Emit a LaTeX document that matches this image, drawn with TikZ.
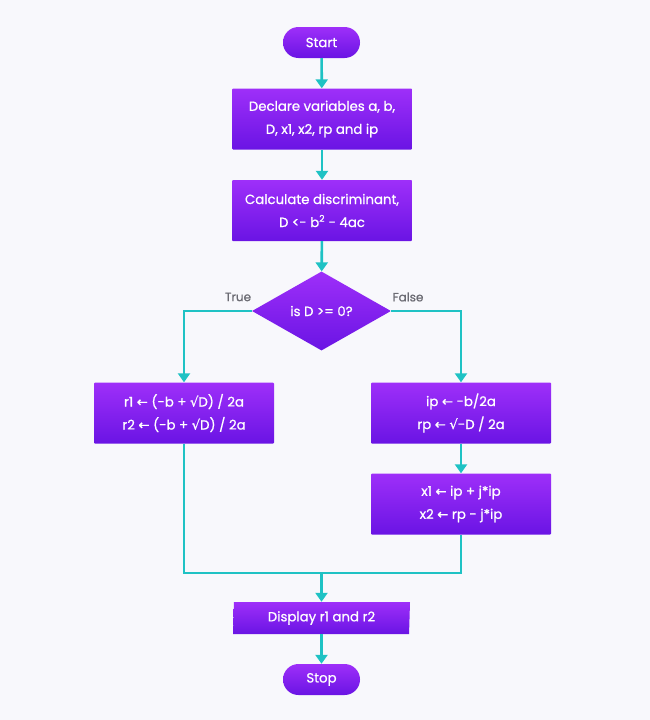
\documentclass[tikz,border=0pt]{standalone}
\usepackage{fontspec}
\setmainfont{Poppins}
\newfontfamily\nodefont[FakeBold=0.8]{Poppins}
\newfontfamily\symf[FakeBold=0.8]{DejaVu Sans}
\usetikzlibrary{shapes.geometric,arrows.meta}
\definecolor{bgc}{HTML}{F8F8FC}
\definecolor{ptop}{HTML}{9E2FF9}
\definecolor{pbot}{HTML}{6A14E4}
\definecolor{teal}{HTML}{1FC2C4}
\definecolor{lbl}{HTML}{6B6B73}
\newcommand{\la}{{\symf ←}}
\newcommand{\sq}{{\symf √}}
\begin{document}
\begin{tikzpicture}[x=1pt,y=-1pt,
  fill box/.style={top color=ptop,bottom color=pbot,draw=none,text=white,
    font=\nodefont\fontsize{13.3}{23}\selectfont,align=center,inner sep=0pt},
  procbox/.style={fill box,rectangle,minimum width=180pt,minimum height=61pt,rounded corners=1pt},
  pill/.style={fill box,rectangle,rounded corners=15.5pt,minimum width=77pt,minimum height=31pt},
  decbox/.style={fill box,diamond,minimum width=139pt,minimum height=79pt,aspect=1.76},
  iobox/.style={fill box,trapezium,trapezium left angle=86,trapezium right angle=94,minimum width=177pt,minimum height=32pt,trapezium stretches body},
  conn/.style={draw=teal,line width=2.6pt},
  arr/.style={conn,-{Triangle[width=12pt,length=9pt]}},
  tlabel/.style={text=lbl,font=\nodefont\fontsize{12}{14}\selectfont}]
\fill[bgc] (0,0) rectangle (650,720);
\useasboundingbox (0,0) rectangle (650,720);
\node[pill] (start) at (321.5,42.5) {Start};
\node[procbox] (decl) at (322,119) {Declare variables a, b,\\D, x1, x2, rp and ip};
\node[procbox] (calc) at (322,210.5) {Calculate discriminant,\\D <- b\textsuperscript{2} - 4ac};
\node[decbox] (dec) at (321.5,311) {is D >= 0?};
\node[procbox] (rl) at (184,413) {r1 \la{} (-b + \sq D) / 2a\\r2 \la{} (-b + \sq D) / 2a};
\node[procbox] (ra) at (461,413) {ip \la{} -b/2a\\rp \la{} \sq -D / 2a};
\node[procbox] (rb) at (461,504) {x1 \la{} ip + j*ip\\x2 \la{} rp - j*ip};
\node[iobox] (disp) at (321.5,618) {Display r1 and r2};
\node[pill] (stop) at (321.5,679.5) {Stop};
\coordinate (join) at (321.5,573);
\node[tlabel] (tl) at (238,297) {True};
\node[tlabel] (fl) at (408,297) {False};
\draw[arr] (start) -- (decl);
\draw[arr] (decl) -- (calc);
\draw[arr] (calc) -- (dec);
\draw[arr] (dec.west) -| (rl.north);
\draw[arr] (dec.east) -| (ra.north);
\draw[arr] (ra) -- (rb);
\draw[conn] (rl.south) |- (rb.south |- join) -- (rb.south);
\draw[arr] (join) -- (disp.north);
\draw[arr] (disp) -- (stop);
\end{tikzpicture}
\end{document}
